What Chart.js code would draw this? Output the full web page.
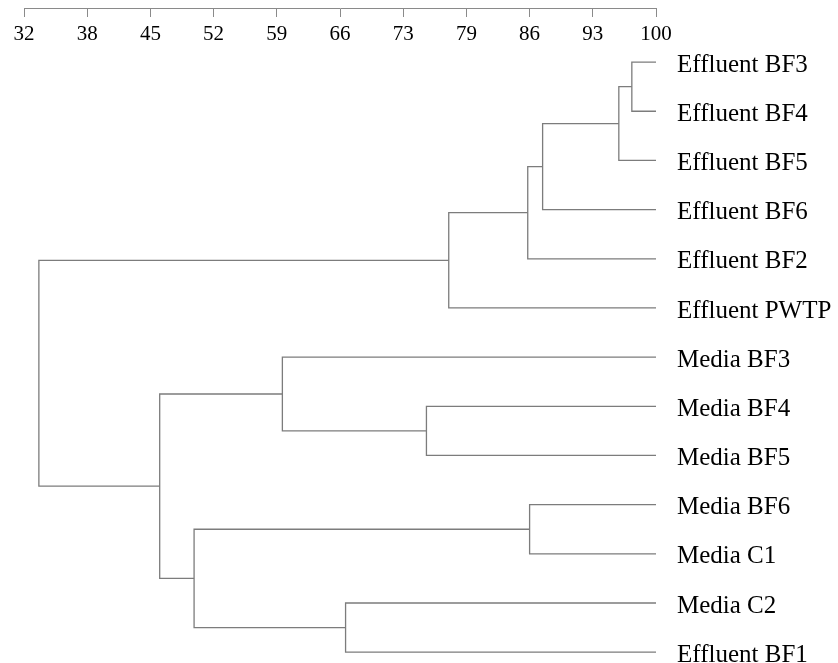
<!DOCTYPE html>
<html>
<head>
<meta charset="utf-8">
<title>Dendrogram</title>
<script src="https://cdn.jsdelivr.net/npm/chart.js@4.4.1/dist/chart.umd.min.js"></script>
<style>
  html, body { margin: 0; padding: 0; background: #ffffff; }
  #wrap { position: relative; width: 838px; height: 663px; }
</style>
</head>
<body>
<div id="wrap"><canvas id="chart"></canvas></div>
<script>
// Leaves, top to bottom
const leafLabels = [
  'Effluent BF3', 'Effluent BF4', 'Effluent BF5', 'Effluent BF6', 'Effluent BF2',
  'Effluent PWTP', 'Media BF3', 'Media BF4', 'Media BF5', 'Media BF6',
  'Media C1', 'Media C2', 'Effluent BF1'
];

// Cluster joins: node ids 0..12 are leaves, each join creates node 13, 14, ...
const joinLeft  = [0, 13, 14, 15, 16, 7, 6, 9, 11, 20, 19, 17];
const joinRight = [1, 2, 3, 4, 5, 8, 18, 10, 12, 21, 22, 23];
const joinSimilarity = [97.4, 96.0, 87.8, 86.2, 77.7, 75.3, 59.8, 86.4, 66.6, 50.3, 46.6, 33.6];

// Similarity axis
const axisTickValues = [32, 38.8, 45.6, 52.4, 59.2, 66, 72.8, 79.6, 86.4, 93.2, 100];
const axisTickLabels = ['32', '38', '45', '52', '59', '66', '73', '79', '86', '93', '100'];
const leafSimilarity = 100;

// Node positions: x = similarity, y = row (mean of children rows)
const nodeX = leafLabels.map(() => leafSimilarity);
const nodeY = leafLabels.map((_, i) => i);
joinLeft.forEach((a, k) => {
  const b = joinRight[k];
  nodeX.push(joinSimilarity[k]);
  nodeY.push((nodeY[a] + nodeY[b]) / 2);
});

const lineColor = '#7c7c7c';
const datasets = joinLeft.map((a, k) => {
  const b = joinRight[k];
  const h = joinSimilarity[k];
  return {
    data: [
      { x: nodeX[a], y: nodeY[a] },
      { x: h, y: nodeY[a] },
      { x: h, y: nodeY[b] },
      { x: nodeX[b], y: nodeY[b] }
    ],
    showLine: true,
    borderColor: lineColor,
    borderWidth: 1.3,
    pointRadius: 0,
    tension: 0,
    fill: false
  };
});

const serif = "'Liberation Serif', 'Times New Roman', serif";

new Chart(document.getElementById('chart'), {
  type: 'scatter',
  data: { datasets },
  options: {
    responsive: true,
    maintainAspectRatio: false,
    animation: false,
    layout: { padding: { top: 8, bottom: 1, left: 24, right: 0 } },
    plugins: { legend: { display: false }, tooltip: { enabled: false } },
    scales: {
      x: {
        type: 'linear',
        min: 32,
        max: 100,
        position: { y: -1.08 },
        afterBuildTicks: (scale) => {
          scale.ticks = axisTickValues.map(v => ({ value: v }));
        },
        // the axis sits inside the plot area, so it reserves no room of its own
        afterFit: (scale) => { scale.height = 0; },
        ticks: {
          autoSkip: false,
          maxRotation: 0,
          padding: 5,
          color: '#000000',
          font: { family: serif, size: 21 },
          callback: (value, index) => axisTickLabels[index]
        },
        grid: {
          display: true,
          drawOnChartArea: false,
          drawTicks: true,
          tickLength: 8,
          color: '#8a8a8a',
          lineWidth: 1
        },
        border: { display: true, color: '#8a8a8a', width: 1 }
      },
      y: {
        type: 'linear',
        position: 'right',
        reverse: true,
        min: -1.1,
        max: 12.2,
        afterBuildTicks: (scale) => {
          scale.ticks = leafLabels.map((_, i) => ({ value: i }));
        },
        afterFit: (scale) => {
          scale.width = 182;
          scale.paddingTop = 0;
          scale.paddingBottom = 0;
        },
        ticks: {
          autoSkip: false,
          padding: 21,
          labelOffset: 3,
          color: '#000000',
          font: { family: serif, size: 25 },
          callback: (value) => leafLabels[value]
        },
        grid: { display: false, drawTicks: false },
        border: { display: false }
      }
    }
  }
});
</script>
</body>
</html>
